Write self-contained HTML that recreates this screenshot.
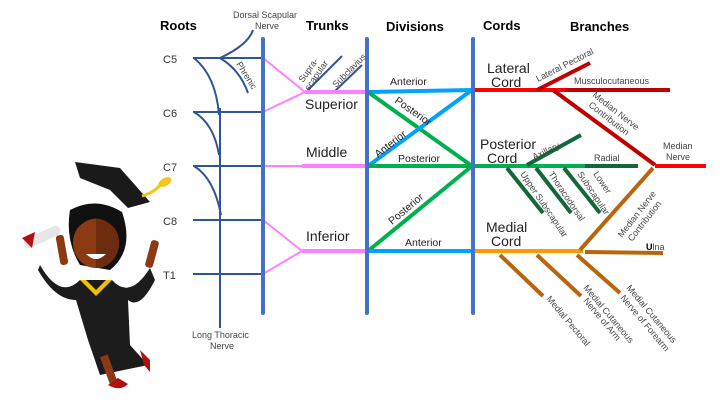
<!DOCTYPE html>
<html><head><meta charset="utf-8"><style>
html,body{margin:0;padding:0;background:#fff;}
svg{display:block;font-family:"Liberation Sans",sans-serif;}
.h{font-size:13px;font-weight:bold;fill:#000;}
.r{font-size:11px;fill:#333;}
.s{font-size:9px;fill:#444;}
.m{font-size:14px;fill:#222;}
.d{font-size:10.5px;fill:#222;}
</style></head><body>
<svg width="720" height="405" viewBox="0 0 720 405">
<text class="h" x="160" y="30">Roots</text>
<text class="h" x="306" y="30">Trunks</text>
<text class="h" x="386" y="31">Divisions</text>
<text class="h" x="483" y="30">Cords</text>
<text class="h" x="570" y="31">Branches</text>
<text class="s" x="233" y="18">Dorsal Scapular</text>
<text class="s" x="255" y="29">Nerve</text>

<text class="r" x="163" y="63">C5</text>
<text class="r" x="163" y="117">C6</text>
<text class="r" x="163" y="171">C7</text>
<text class="r" x="163" y="225">C8</text>
<text class="r" x="163" y="279">T1</text>

<g stroke="#2f5597" stroke-width="2" fill="none">
<line x1="193" y1="58" x2="263" y2="58"/>
<line x1="193" y1="112" x2="263" y2="112"/>
<line x1="193" y1="166" x2="263" y2="166"/>
<line x1="193" y1="220" x2="263" y2="220"/>
<line x1="193" y1="274" x2="263" y2="274"/>
<path d="M194 58 Q216 76 219 115"/>
<path d="M194 112 Q214 124 219 155"/>
<path d="M194 166 Q214 178 221 215"/>
<line x1="220" y1="108" x2="220" y2="328"/>
<path d="M220 58 Q248 45 253 30"/>
<path d="M220 58 Q240 70 248 93"/>
<line x1="307" y1="91" x2="342" y2="56"/>
<line x1="335" y1="91" x2="362" y2="65"/>
</g>
<text class="s" transform="translate(236,64) rotate(58)">Phrenic</text>
<text class="s" transform="translate(303,83) rotate(-55)">Supra-</text>
<text class="s" transform="translate(309,91) rotate(-55)">scapular</text>
<text class="s" transform="translate(336,88) rotate(-45)">Subclavius</text>

<g stroke="#ff80ff" fill="none">
<path d="M263 58 L305 92 L263 112" stroke-width="2"/>
<line x1="263" y1="166" x2="305" y2="166" stroke-width="2"/>
<path d="M263 220 L302 251 L263 274" stroke-width="2"/>
<line x1="305" y1="92" x2="367" y2="92" stroke-width="4"/>
<line x1="302" y1="166" x2="367" y2="166" stroke-width="4"/>
<line x1="302" y1="251" x2="367" y2="251" stroke-width="4"/>
</g>
<text class="m" x="305" y="109">Superior</text>
<text class="m" x="306" y="157">Middle</text>
<text class="m" x="306" y="241">Inferior</text>

<g stroke-width="4" fill="none">
<line x1="368" y1="92" x2="472" y2="90" stroke="#00a2ff"/>
<line x1="368" y1="92" x2="472" y2="166" stroke="#00b050"/>
<line x1="368" y1="166" x2="472" y2="90" stroke="#00a2ff"/>
<line x1="368" y1="166" x2="472" y2="166" stroke="#00b050"/>
<line x1="368" y1="251" x2="472" y2="166" stroke="#00b050"/>
<line x1="368" y1="251" x2="472" y2="251" stroke="#00a2ff"/>
</g>
<text class="d" x="390" y="85">Anterior</text>
<text class="d" transform="translate(394,102) rotate(35)">Posterior</text>
<text class="d" transform="translate(378,158) rotate(-38)">Anterior</text>
<text class="d" x="398" y="162">Posterior</text>
<text class="d" transform="translate(392,225) rotate(-40)">Posterior</text>
<text class="d" x="405" y="246">Anterior</text>

<g stroke="#4472c4" stroke-width="4" stroke-linecap="round">
<line x1="263" y1="39" x2="263" y2="313"/>
<line x1="367" y1="39" x2="367" y2="313"/>
<line x1="473" y1="39" x2="473" y2="313"/>
</g>

<g stroke-width="4" fill="none">
<line x1="475" y1="90" x2="565" y2="90" stroke="#ff0000"/>
<line x1="565" y1="90" x2="670" y2="90" stroke="#c00000"/>
<line x1="537" y1="90" x2="590" y2="63" stroke="#c00000"/>
<line x1="553" y1="90" x2="655" y2="165" stroke="#c00000"/>
<line x1="655" y1="166" x2="706" y2="166" stroke="#ff0000"/>
<line x1="475" y1="166" x2="585" y2="166" stroke="#00b050"/>
<line x1="585" y1="166" x2="638" y2="166" stroke="#13673a"/>
<line x1="527" y1="165" x2="581" y2="135" stroke="#13673a"/>
<line x1="507" y1="168" x2="543" y2="213" stroke="#13673a"/>
<line x1="536" y1="168" x2="571" y2="213" stroke="#13673a"/>
<line x1="564" y1="168" x2="600" y2="213" stroke="#13673a"/>
<line x1="475" y1="251" x2="583" y2="251" stroke="#ff9900"/>
<line x1="585" y1="252" x2="663" y2="253" stroke="#b8650e"/>
<line x1="580" y1="250" x2="653" y2="168" stroke="#b8650e"/>
<line x1="500" y1="255" x2="543" y2="296" stroke="#b8650e"/>
<line x1="537" y1="255" x2="581" y2="296" stroke="#b8650e"/>
<line x1="577" y1="255" x2="620" y2="293" stroke="#b8650e"/>
</g>
<text class="m" x="487" y="73" font-size="13">Lateral</text>
<text class="m" x="491" y="87" font-size="13">Cord</text>
<text class="m" x="480" y="149" font-size="13">Posterior</text>
<text class="m" x="487" y="163" font-size="13">Cord</text>
<text class="m" x="486" y="232" font-size="13">Medial</text>
<text class="m" x="491" y="246" font-size="13">Cord</text>
<text class="s" transform="translate(538,82) rotate(-27)">Lateral Pectoral</text>
<text class="s" x="574" y="84">Musculocutaneous</text>
<text class="s" transform="translate(592,96) rotate(38)">Median Nerve</text>
<text class="s" transform="translate(588,106) rotate(38)">Contribution</text>
<text class="s" x="663" y="149">Median</text>
<text class="s" x="666" y="160">Nerve</text>
<text class="s" transform="translate(534,160) rotate(-25)">Axillary</text>
<text class="s" x="594" y="161">Radial</text>
<text class="s" transform="translate(520,174) rotate(56)">Upper Subscapular</text>
<text class="s" transform="translate(548,174) rotate(56)">Thoracodorsal</text>
<text class="s" transform="translate(593,174) rotate(56)">Lower</text>
<text class="s" transform="translate(577,174) rotate(56)">Subscapular</text>
<text class="s" transform="translate(622,238) rotate(-52)">Median Nerve</text>
<text class="s" transform="translate(632,242) rotate(-52)">Contribution</text>
<text class="s" x="646" y="250"><tspan font-weight="bold" fill="#000">U</tspan>lna</text>
<text class="s" transform="translate(546,299) rotate(50)">Medial Pectoral</text>
<text class="s" transform="translate(583,288) rotate(50)">Medial Cutaneous</text>
<text class="s" transform="translate(583,301) rotate(50)">Nerve of Arm</text>
<text class="s" transform="translate(626,288) rotate(50)">Medial Cutaneous</text>
<text class="s" transform="translate(620,298) rotate(50)">Nerve of Forearm</text>
<text class="s" x="192" y="338">Long Thoracic</text>
<text class="s" x="210" y="349">Nerve</text>

<g>
<polygon points="75,162 120,168 150,202 128,208 110,190 80,178" fill="#1a1a1a"/>
<path d="M142 196 Q155 192 160 185" stroke="#f5c518" stroke-width="3" fill="none"/>
<ellipse cx="165" cy="182" rx="7" ry="4" fill="#f5c518" transform="rotate(-30 165 182)"/>
<path d="M70 210 Q96 196 122 212 Q135 250 110 270 L80 265 Q65 240 70 210Z" fill="#111"/>
<ellipse cx="96" cy="243" rx="23" ry="25" fill="#8b3a14"/>
<path d="M96 218 A23 25 0 0 1 96 268Z" fill="#6e2c0e"/>
<path d="M74 232 Q96 205 118 232 Q110 218 96 216 Q80 218 74 232Z" fill="#111"/>
<path d="M86 254 Q96 264 106 254Z" fill="#fff"/>
<path d="M40 265 Q60 300 80 280 L112 280 Q130 300 150 268 L155 280 Q140 310 128 300 L130 345 L148 365 L100 375 L88 340 L76 300 Q55 300 38 270Z" fill="#1c1c1c"/>
<polygon points="80,280 96,296 112,280 106,280 96,290 86,280" fill="#f2c200"/>
<rect x="58" y="235" width="8" height="30" rx="3" fill="#8b3a14" transform="rotate(-10 62 250)"/>
<rect x="148" y="240" width="8" height="28" rx="3" fill="#8b3a14" transform="rotate(15 152 254)"/>
<rect x="22" y="232" width="40" height="10" rx="5" fill="#e6e6e6" transform="rotate(-25 42 237)"/>
<path d="M22 238 L35 232 L32 248Z" fill="#b01010"/>
<rect x="105" y="355" width="8" height="30" fill="#8b3a14" transform="rotate(-20 109 370)"/>
<path d="M108 385 Q120 392 128 384 L118 378Z" fill="#b01010"/>
<path d="M140 350 L150 360 L150 372 L144 365Z" fill="#b01010"/>
</g>
</svg>
</body></html>
